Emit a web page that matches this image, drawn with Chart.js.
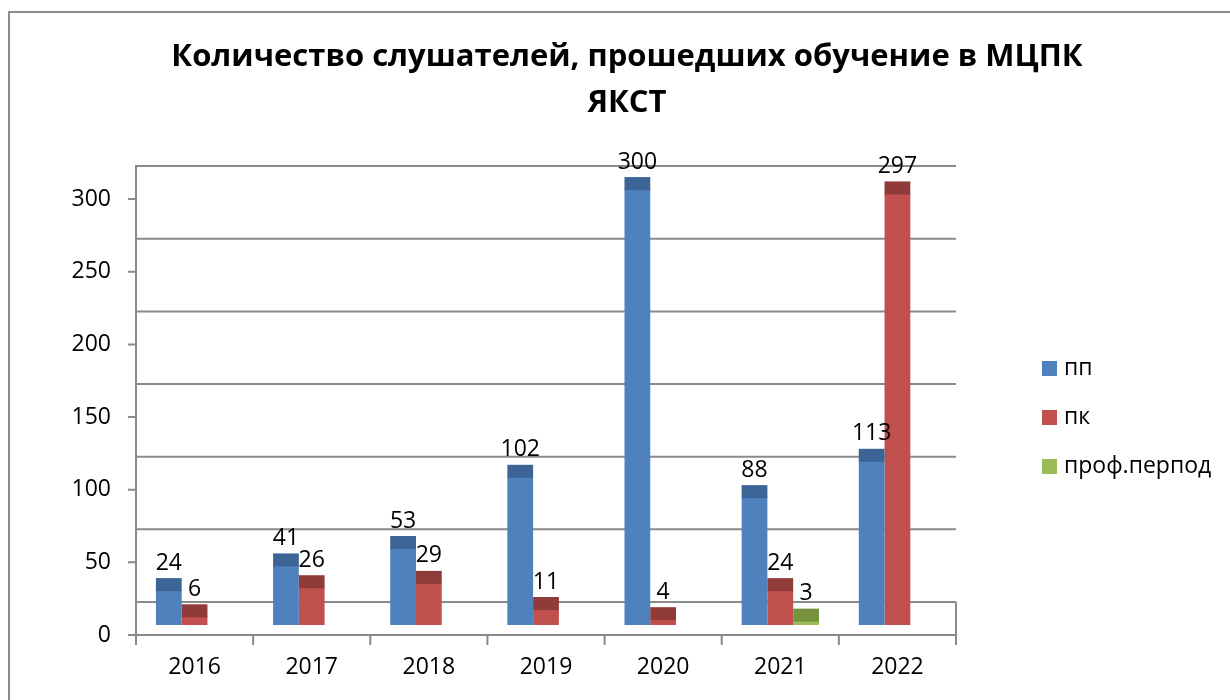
<!DOCTYPE html>
<html lang="ru">
<head>
<meta charset="utf-8">
<title>Количество слушателей</title>
<script src="https://cdn.jsdelivr.net/npm/chart.js@4/dist/chart.umd.min.js"></script>
<style>
  html, body { margin: 0; padding: 0; background: #fff; }
  canvas { display: block; }
</style>
</head>
<body>
<canvas id="chart" width="1230" height="700"></canvas>
<script>
const TITLE_LINES = ["Количество слушателей, прошедших обучение в МЦПК", "ЯКСТ"];
const YEARS = ["2016", "2017", "2018", "2019", "2020", "2021", "2022"];
const SERIES_LABELS = ["пп", "пк", "проф.перпод"];
const PP = [24, 41, 53, 102, 300, 88, 113];
const PK = [6, 26, 29, 11, 4, 24, 297];
const PROF = [null, null, null, null, null, 3, null];
const Y_TICKS = [0, 50, 100, 150, 200, 250, 300];

const COLORS = ["#4F81BD", "#C0504D", "#9BBB59"];
const CAP_COLORS = ["#3C6494", "#8F3B39", "#76923C"];
const LINE_COLOR = "#8a8a8a";
const FONT = "'Open Sans', 'DejaVu Sans', sans-serif";

// pseudo-3d offsets (px): back wall sits above the bar scale, front axis below it
const BACK = 23;
const FRONT = 10;
const CAP = 12;

const frame3d = {
  id: "frame3d",
  beforeDatasetsDraw(chart) {
    const { ctx, chartArea, scales: { y } } = chart;
    const { left, right } = chartArea;
    const back = v => y.getPixelForValue(v) - BACK;
    const front = v => y.getPixelForValue(v) + FRONT;
    const top = back(Y_TICKS[Y_TICKS.length - 1]);
    const floor = front(0);
    ctx.save();
    ctx.strokeStyle = LINE_COLOR;
    ctx.lineWidth = 2;
    ctx.beginPath();
    Y_TICKS.forEach(v => {
      ctx.moveTo(left, back(v));
      ctx.lineTo(right, back(v));
      ctx.moveTo(left - 8, front(v));
      ctx.lineTo(left, front(v));
    });
    ctx.moveTo(left, top - 1);
    ctx.lineTo(left, floor + 7);
    ctx.moveTo(left, floor);
    ctx.lineTo(right, floor);
    ctx.moveTo(right, back(0));
    ctx.lineTo(right, floor + 10);
    const step = (right - left) / YEARS.length;
    for (let i = 0; i < YEARS.length; i++) {
      ctx.moveTo(left + i * step, floor);
      ctx.lineTo(left + i * step, floor + 10);
    }
    ctx.stroke();
    ctx.restore();
  },
  afterDatasetsDraw(chart) {
    const { ctx } = chart;
    ctx.save();
    ctx.font = `23px ${FONT}`;
    ctx.textAlign = "center";
    ctx.textBaseline = "middle";
    chart.data.datasets.forEach((dataset, i) => {
      chart.getDatasetMeta(i).data.forEach((bar, j) => {
        const value = dataset.data[j];
        if (value === null || value === undefined) return;
        const { x, y, width } = bar.getProps(["x", "y", "width"], true);
        ctx.fillStyle = CAP_COLORS[i];
        ctx.fillRect(x - width / 2, y - CAP, width, CAP + 1);
        ctx.fillStyle = "#000";
        ctx.fillText(String(value), x, y - CAP - 15);
      });
    });
    ctx.restore();
  },
  afterDraw(chart) {
    const { ctx } = chart;
    ctx.save();
    // outer frame
    ctx.strokeStyle = "#8c8c8c";
    ctx.lineWidth = 2;
    ctx.strokeRect(9, 12, 1240, 720);
    // title
    ctx.fillStyle = "#000";
    ctx.font = `bold 31px ${FONT}`;
    ctx.textAlign = "center";
    ctx.textBaseline = "middle";
    TITLE_LINES.forEach((line, i) => ctx.fillText(line, 627, 57 + i * 46));
    // legend
    ctx.font = `23px ${FONT}`;
    ctx.textAlign = "left";
    SERIES_LABELS.forEach((label, i) => {
      const cy = 368 + i * 49;
      ctx.fillStyle = COLORS[i];
      ctx.fillRect(1042, cy - 7, 15, 15);
      ctx.fillStyle = "#000";
      ctx.fillText(label, 1064, cy);
    });
    ctx.restore();
  }
};

new Chart(document.getElementById("chart"), {
  type: "bar",
  data: {
    labels: YEARS,
    datasets: [PP, PK, PROF].map((data, i) => ({
      label: SERIES_LABELS[i],
      data,
      backgroundColor: COLORS[i],
      borderWidth: 0,
      categoryPercentage: 0.66,
      barPercentage: 1
    }))
  },
  options: {
    responsive: false,
    animation: false,
    layout: { padding: { top: 160, right: 274, left: 0, bottom: 0 } },
    plugins: {
      legend: { display: false },
      title: { display: false },
      tooltip: { enabled: false }
    },
    scales: {
      x: {
        grid: { display: false, drawTicks: false },
        border: { display: false },
        ticks: { color: "#000", font: { family: FONT, size: 23 }, padding: 29 },
        afterFit: scale => { scale.height = 75; }
      },
      y: {
        min: 0,
        max: 320,
        grid: { display: false, drawTicks: false },
        border: { display: false },
        ticks: { stepSize: 50, color: "#000", font: { family: FONT, size: 23 }, padding: 25, labelOffset: FRONT },
        afterBuildTicks: scale => { scale.ticks = scale.ticks.filter(t => Y_TICKS.includes(t.value)); },
        afterFit: scale => { scale.width = 136; }
      }
    }
  },
  plugins: [frame3d]
});
</script>
</body>
</html>
